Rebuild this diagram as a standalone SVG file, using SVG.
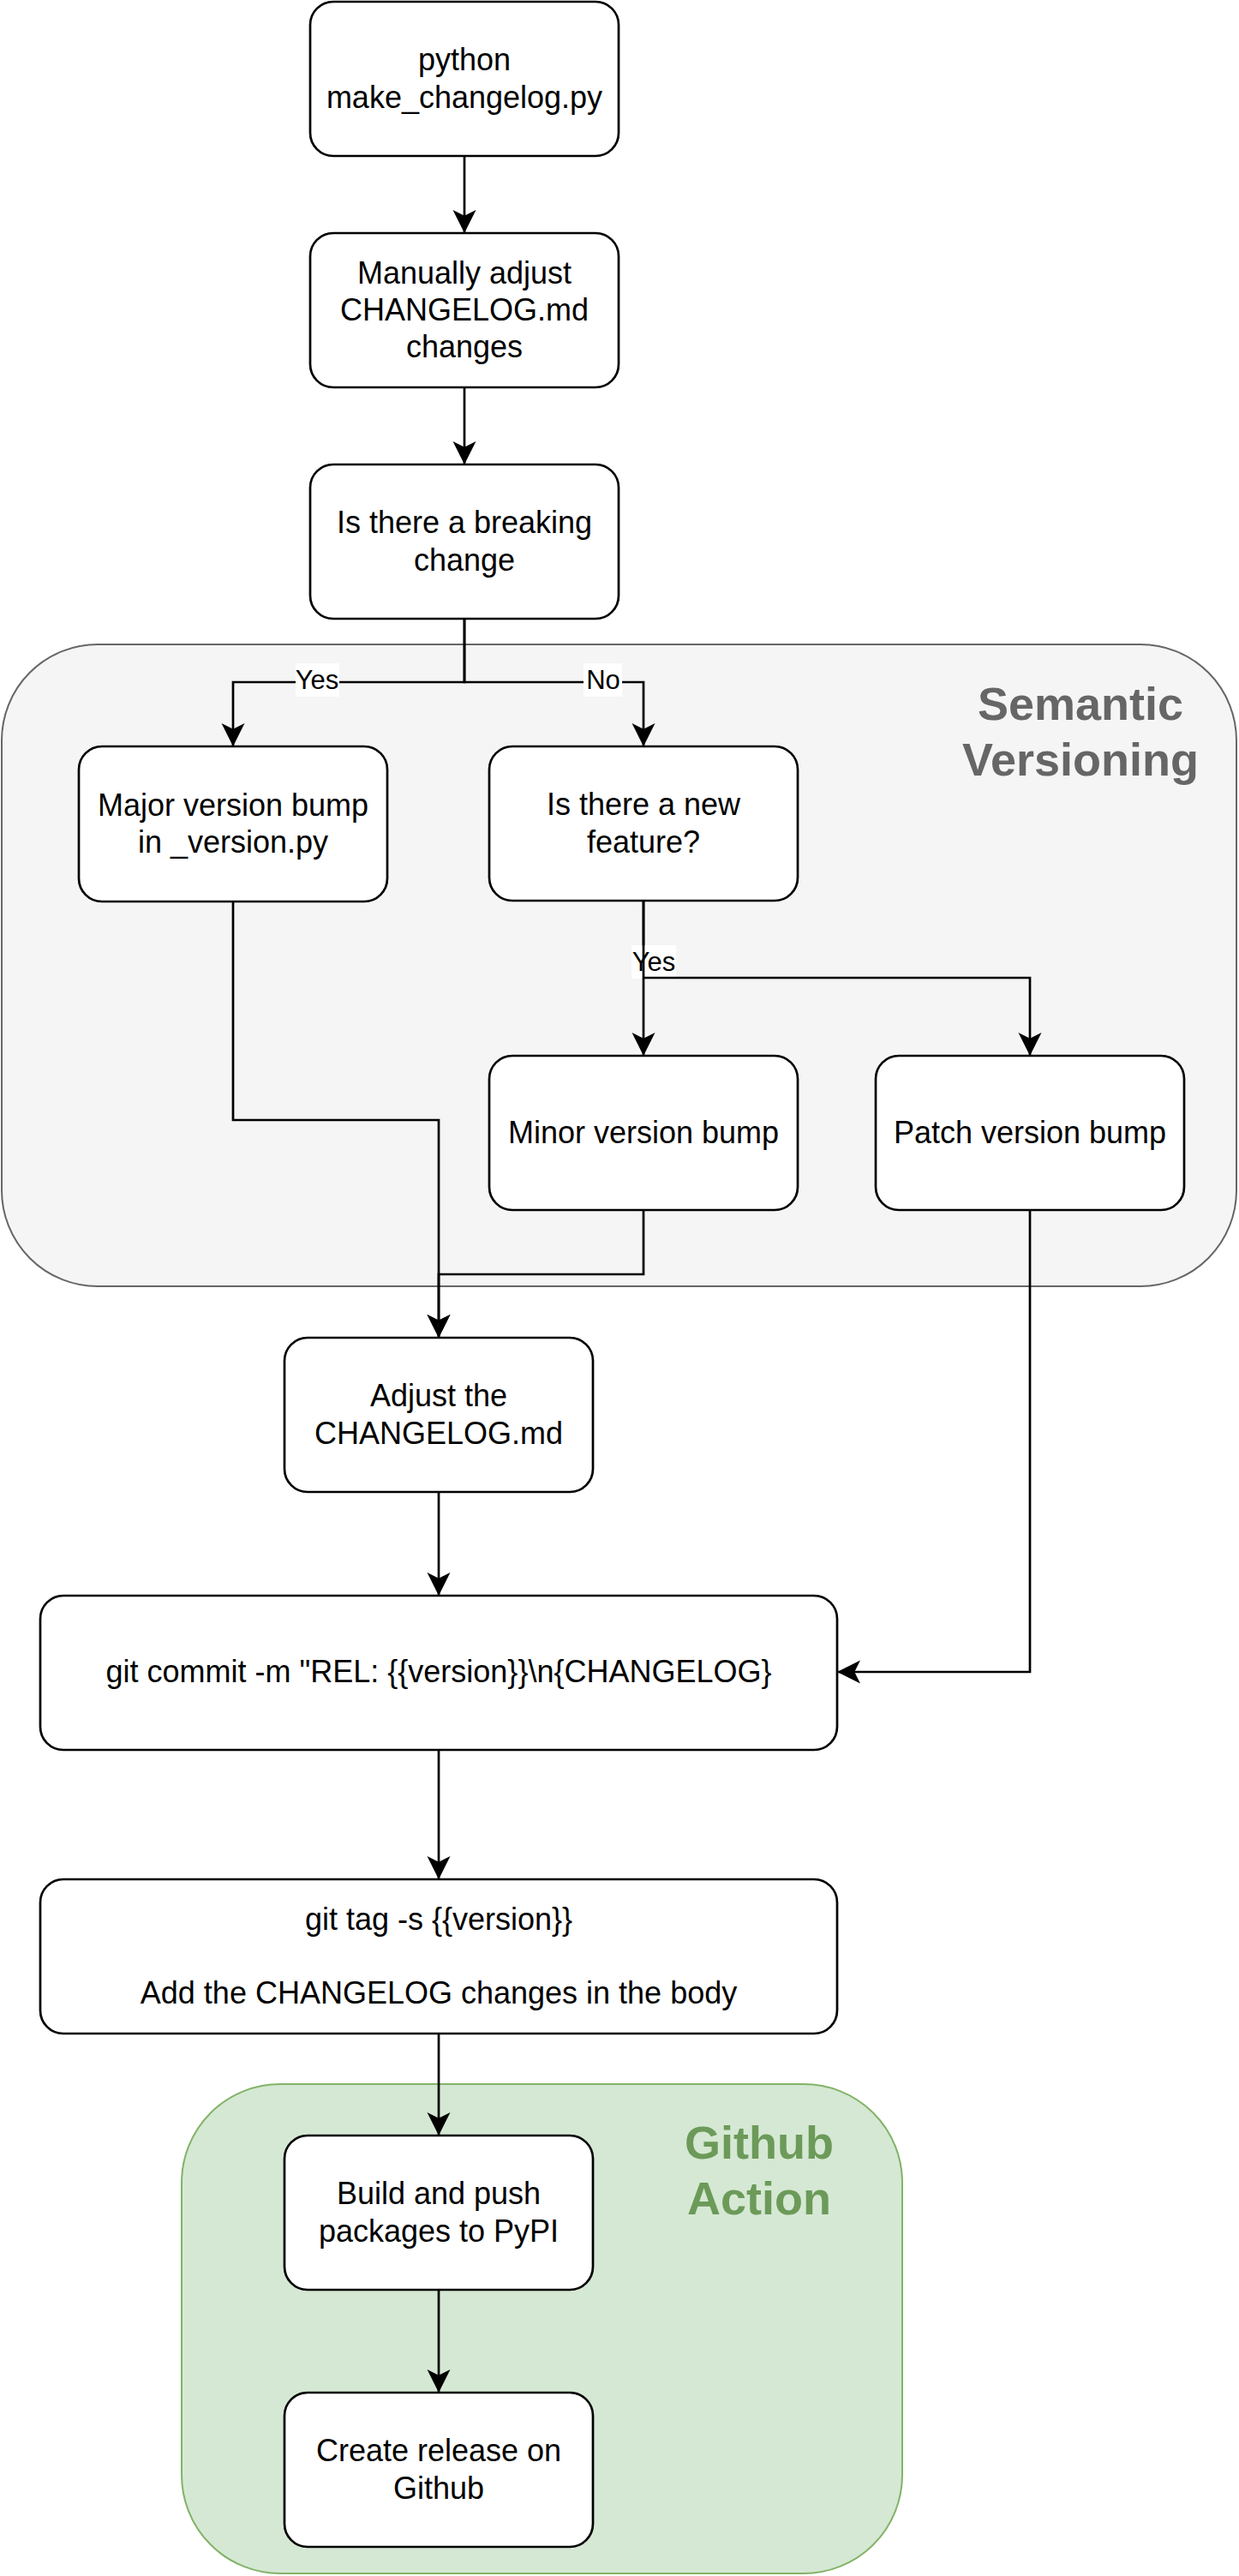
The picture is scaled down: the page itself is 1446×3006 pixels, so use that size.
<svg xmlns="http://www.w3.org/2000/svg" width="1446" height="3006" viewBox="0 0 1446 3006">
<style>
.node rect{fill:#ffffff;stroke:#000000;stroke-width:2.7}
.node text{font-family:"Liberation Sans",Arial,sans-serif;font-size:36px;fill:#000000;text-anchor:middle}
.edge{fill:none;stroke:#000000;stroke-width:2.7}
.lbl{font-family:"Liberation Sans",Arial,sans-serif;font-size:31px;fill:#000000;text-anchor:middle}
.lblbg{fill:#ffffff}
.gtitle{font-family:"Liberation Sans",Arial,sans-serif;font-size:54px;font-weight:bold;text-anchor:middle}
</style>
<defs>
<marker id="arr" markerUnits="userSpaceOnUse" markerWidth="30" markerHeight="30" viewBox="-28 -15 30 30" refX="0" refY="0" orient="auto">
<path d="M0,0 L-27,-13.5 L-20.25,0 L-27,13.5 Z" fill="#000000"/>
</marker>
</defs>
<rect width="1446" height="3006" fill="#ffffff"/>

<g id="group-semantic">
<rect x="2" y="752" width="1441" height="749" rx="112" ry="112" fill="#f5f5f5" stroke="#666666" stroke-width="2"/>
<text class="gtitle" fill="#666666" x="1261" y="840">Semantic</text>
<text class="gtitle" fill="#666666" x="1261" y="905">Versioning</text>
</g>

<g id="group-github">
<rect x="212" y="2432" width="841" height="571" rx="115" ry="115" fill="#d5e8d4" stroke="#82b366" stroke-width="2"/>
<text class="gtitle" fill="#6c9a59" x="886" y="2519">Github</text>
<text class="gtitle" fill="#6c9a59" x="886" y="2584">Action</text>
</g>

<g id="connectors">
<path class="edge" d="M542,182 V272" marker-end="url(#arr)"/>
<path class="edge" d="M542,452 V542" marker-end="url(#arr)"/>
<path class="edge" d="M542,722 V796 H272 V871" marker-end="url(#arr)"/>
<path class="edge" d="M542,722 V796 H751 V871" marker-end="url(#arr)"/>
<rect class="lblbg" x="345" y="774" width="51" height="39"/>
<text class="lbl" x="370" y="804">Yes</text>
<rect class="lblbg" x="681" y="774" width="45" height="39"/>
<text class="lbl" x="704" y="804">No</text>
<path class="edge" d="M751,1051 V1232" marker-end="url(#arr)"/>
<rect class="lblbg" x="737" y="1103" width="52" height="39"/>
<text class="lbl" x="763" y="1133">Yes</text>
<path class="edge" d="M751,1051 V1141 H1202 V1232" marker-end="url(#arr)"/>
<path class="edge" d="M272,1052 V1307 H512 V1561" marker-end="url(#arr)"/>
<path class="edge" d="M751,1412 V1487 H512 V1561" marker-end="url(#arr)"/>
<path class="edge" d="M512,1741 V1862" marker-end="url(#arr)"/>
<path class="edge" d="M1202,1412 V1951 H977" marker-end="url(#arr)"/>
<path class="edge" d="M512,2042 V2193" marker-end="url(#arr)"/>
<path class="edge" d="M512,2373 V2492" marker-end="url(#arr)"/>
<path class="edge" d="M512,2672 V2792" marker-end="url(#arr)"/>
</g>

<g id="node-make-changelog" class="node">
<rect x="362" y="2" width="360" height="180" rx="27" ry="27"/>
<text x="542" y="82.4">python</text>
<text x="542" y="125.6">make_changelog.py</text>
</g>

<g id="node-manual-adjust" class="node">
<rect x="362" y="272" width="360" height="180" rx="27" ry="27"/>
<text x="542" y="330.8">Manually adjust</text>
<text x="542" y="374">CHANGELOG.md</text>
<text x="542" y="417.2">changes</text>
</g>

<g id="node-breaking" class="node">
<rect x="362" y="542" width="360" height="180" rx="27" ry="27"/>
<text x="542" y="622.4">Is there a breaking</text>
<text x="542" y="665.6">change</text>
</g>

<g id="node-major" class="node">
<rect x="92" y="871" width="360" height="181" rx="27" ry="27"/>
<text x="272" y="951.9">Major version bump</text>
<text x="272" y="995.1">in _version.py</text>
</g>

<g id="node-feature" class="node">
<rect x="571" y="871" width="360" height="180" rx="27" ry="27"/>
<text x="751" y="951.4">Is there a new</text>
<text x="751" y="994.6">feature?</text>
</g>

<g id="node-minor" class="node">
<rect x="571" y="1232" width="360" height="180" rx="27" ry="27"/>
<text x="751" y="1334">Minor version bump</text>
</g>

<g id="node-patch" class="node">
<rect x="1022" y="1232" width="360" height="180" rx="27" ry="27"/>
<text x="1202" y="1334">Patch version bump</text>
</g>

<g id="node-adjust" class="node">
<rect x="332" y="1561" width="360" height="180" rx="27" ry="27"/>
<text x="512" y="1641.4">Adjust the</text>
<text x="512" y="1684.6">CHANGELOG.md</text>
</g>

<g id="node-commit" class="node">
<rect x="47" y="1862" width="930" height="180" rx="27" ry="27"/>
<text x="512" y="1963">git commit -m "REL: {{version}}\n{CHANGELOG}</text>
</g>

<g id="node-tag" class="node">
<rect x="47" y="2193" width="930" height="180" rx="27" ry="27"/>
<text x="512" y="2251.8">git tag -s {{version}}</text>
<text x="512" y="2338.2">Add the CHANGELOG changes in the body</text>
</g>

<g id="node-build" class="node">
<rect x="332" y="2492" width="360" height="180" rx="27" ry="27"/>
<text x="512" y="2572.4">Build and push</text>
<text x="512" y="2615.6">packages to PyPI</text>
</g>

<g id="node-release" class="node">
<rect x="332" y="2792" width="360" height="180" rx="27" ry="27"/>
<text x="512" y="2872.4">Create release on</text>
<text x="512" y="2915.6">Github</text>
</g>
</svg>
